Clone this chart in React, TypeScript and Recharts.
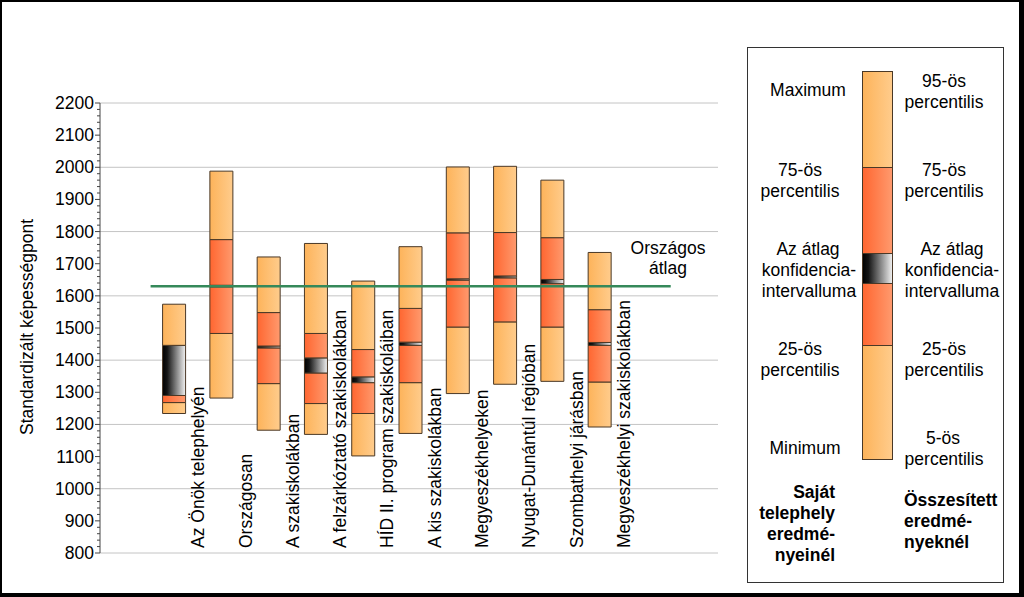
import React from 'react';
import { ComposedChart, Bar, XAxis, YAxis, CartesianGrid, ReferenceLine } from 'recharts';

// Box values (standardised ability points)
const categories = [
  'Az Önök telephelyén',
  'Országosan',
  'A szakiskolákban',
  'A felzárkóztató szakiskolákban',
  'HÍD II. program szakiskoláiban',
  'A kis szakiskolákban',
  'Megyeszékhelyeken',
  'Nyugat-Dunántúl régióban',
  'Szombathelyi járásban',
  'Megyeszékhelyi szakiskolákban',
];
const minValues = [1234, 1282, 1182, 1169, 1102, 1172, 1296, 1325, 1334, 1192];
const p25Values = [1268, 1483, 1327, 1265, 1234, 1330, 1503, 1519, 1503, 1332];
const ciLowValues = [1290, 1628, 1438, 1360, 1330, 1446, 1649, 1656, 1638, 1446];
const ciHighValues = [1446, 1633, 1444, 1407, 1348, 1456, 1653, 1662, 1651, 1455];
const p75Values = [1446, 1775, 1548, 1483, 1433, 1561, 1796, 1797, 1781, 1557];
const maxValues = [1574, 1988, 1721, 1763, 1646, 1753, 2001, 2003, 1960, 1735];
const nationalAverage = 1630;

const majorTicks = [800, 900, 1000, 1100, 1200, 1300, 1400, 1500, 1600, 1700, 1800, 1900, 2000, 2100, 2200];
const gridValues = [800, 1000, 1200, 1400, 1600, 1800, 2000, 2200];
const allTicks: number[] = [];
majorTicks.forEach((t, i) => {
  allTicks.push(t);
  if (i < majorTicks.length - 1) for (let m = t + 20; m < majorTicks[i + 1]; m += 20) allTicks.push(m);
});

// slot 0 and slots 11-12 stay empty, so bars sit at 1.5 ... 10.5
const rows = categories.map((name, i) => ({
  name,
  pos: i + 1.5,
  base: minValues[i],
  lowLight: p25Values[i] - minValues[i],
  lowDark: ciLowValues[i] - p25Values[i],
  ci: ciHighValues[i] - ciLowValues[i],
  highDark: p75Values[i] - ciHighValues[i],
  highLight: maxValues[i] - p75Values[i],
}));

const FONT = '"Liberation Sans", Arial, sans-serif';
const FS = 17.5;
const EDGE = '#4a3826';

const YTick = ({ x, y, payload }: any) => {
  const v = payload.value;
  const major = v % 100 === 0;
  return (
    <g>
      <line x1={x - (major ? 5 : 3)} x2={x} y1={y} y2={y} stroke="#444" />
      {major && (
        <text x={x - 6} y={y} textAnchor="end" dominantBaseline="central" fontSize={FS} fontFamily={FONT} fill="#000">
          {v}
        </text>
      )}
    </g>
  );
};

const XTick = ({ x, y, payload }: any) => {
  const idx = Math.round(payload.value - 1.5);
  const tx = x + 30;
  const ty = y - 5;
  return (
    <text x={tx} y={ty} transform={`rotate(-90 ${tx} ${ty})`} textAnchor="start" fontSize={FS} fontFamily={FONT} fill="#000">
      {categories[idx]}
    </text>
  );
};

const Gradients = ({ prefix }: { prefix: string }) => (
  <defs>
    <linearGradient id={`${prefix}light`} x1="0" y1="0" x2="1" y2="0">
      <stop offset="0" stopColor="#FDB35A" />
      <stop offset="1" stopColor="#FFCC8C" />
    </linearGradient>
    <linearGradient id={`${prefix}dark`} x1="0" y1="0" x2="1" y2="0">
      <stop offset="0" stopColor="#FF6630" />
      <stop offset="1" stopColor="#FF9A6E" />
    </linearGradient>
    <linearGradient id={`${prefix}ci`} x1="0" y1="0" x2="1" y2="0">
      <stop offset="0" stopColor="#000000" />
      <stop offset="0.2" stopColor="#151515" />
      <stop offset="1" stopColor="#F2F2F2" />
    </linearGradient>
  </defs>
);

const leftLegend = [
  { t: 'Maximum', x: 808, y: 90 },
  { t: '75-ös', x: 800, y: 170 },
  { t: 'percentilis', x: 800, y: 191 },
  { t: 'Az átlag', x: 808, y: 249 },
  { t: 'konfidencia-', x: 809, y: 270 },
  { t: 'intervalluma', x: 809, y: 291 },
  { t: '25-ös', x: 800, y: 349 },
  { t: 'percentilis', x: 800, y: 370 },
  { t: 'Minimum', x: 805, y: 448 },
];
const rightLegend = [
  { t: '95-ös', x: 944, y: 81 },
  { t: 'percentilis', x: 944, y: 102 },
  { t: '75-ös', x: 944, y: 170 },
  { t: 'percentilis', x: 944, y: 191 },
  { t: 'Az átlag', x: 952, y: 249 },
  { t: 'konfidencia-', x: 952, y: 270 },
  { t: 'intervalluma', x: 952, y: 291 },
  { t: '25-ös', x: 944, y: 349 },
  { t: 'percentilis', x: 944, y: 370 },
  { t: '5-ös', x: 943, y: 438 },
  { t: 'percentilis', x: 944, y: 459 },
];
const leftBold = ['Saját', 'telephely', 'eredmé-', 'nyeinél'];
const rightBold = ['Összesített', 'eredmé-', 'nyeknél'];

export default function App() {
  return (
    <div style={{ position: 'absolute', left: 0, top: 0, width: 1024, height: 597, background: '#fff', fontFamily: FONT }}>
      <div style={{ position: 'absolute', left: 0, top: 0 }}>
        <ComposedChart width={740} height={597} data={rows} margin={{ top: 103, right: 22, bottom: 14, left: 0 }}>
          <Gradients prefix="c-" />
          <CartesianGrid vertical={false} horizontalValues={gridValues} stroke="#c4c4c4" />
          <XAxis
            dataKey="pos"
            type="number"
            domain={[-0.07, 13]}
            ticks={rows.map(r => r.pos)}
            interval={0}
            height={30}
            axisLine={false}
            tickLine={false}
            tickSize={0}
            tickMargin={0}
            tick={<XTick />}
          />
          <YAxis
            type="number"
            domain={[800, 2200]}
            ticks={allTicks}
            interval={0}
            width={100}
            allowDataOverflow
            axisLine={{ stroke: '#444' }}
            tickLine={false}
            tickSize={0}
            tickMargin={0}
            tick={<YTick />}
          />
          <Bar dataKey="base" stackId="box" fill="transparent" stroke="none" barSize={23} isAnimationActive={false} />
          <Bar dataKey="lowLight" stackId="box" fill="url(#c-light)" stroke={EDGE} barSize={23} isAnimationActive={false} />
          <Bar dataKey="lowDark" stackId="box" fill="url(#c-dark)" stroke={EDGE} barSize={23} isAnimationActive={false} />
          <Bar dataKey="ci" stackId="box" fill="url(#c-ci)" stroke={EDGE} barSize={23} isAnimationActive={false} />
          <Bar dataKey="highDark" stackId="box" fill="url(#c-dark)" stroke={EDGE} barSize={23} isAnimationActive={false} />
          <Bar dataKey="highLight" stackId="box" fill="url(#c-light)" stroke={EDGE} barSize={23} isAnimationActive={false} />
          <ReferenceLine
            segment={[{ x: 1, y: nationalAverage }, { x: 12, y: nationalAverage }]}
            stroke="#35895A"
            strokeWidth={2.6}
          />
        </ComposedChart>
      </div>

      <svg width={1024} height={597} style={{ position: 'absolute', left: 0, top: 0, pointerEvents: 'none' }}>
        <Gradients prefix="l-" />
        <text x={27} y={327} transform="rotate(-90 27 327)" textAnchor="middle" dominantBaseline="central" fontSize={FS} fontFamily={FONT}>
          Standardizált képességpont
        </text>
        <text x={668} y={254} textAnchor="middle" fontSize={FS} fontFamily={FONT}>Országos</text>
        <text x={668} y={274} textAnchor="middle" fontSize={FS} fontFamily={FONT}>átlag</text>

        {/* legend */}
        <rect x={747.5} y={47.5} width={256} height={535} fill="none" stroke="#333" />
        <rect x={862.5} y={71.5} width={30} height={96} fill="url(#l-light)" stroke={EDGE} />
        <rect x={862.5} y={167.5} width={30} height={86} fill="url(#l-dark)" stroke={EDGE} />
        <rect x={862.5} y={253.5} width={30} height={30} fill="url(#l-ci)" stroke={EDGE} />
        <rect x={862.5} y={283.5} width={30} height={62} fill="url(#l-dark)" stroke={EDGE} />
        <rect x={862.5} y={345.5} width={30} height={114} fill="url(#l-light)" stroke={EDGE} />
        {leftLegend.map((l, i) => (
          <text key={'l' + i} x={l.x} y={l.y} textAnchor="middle" dominantBaseline="central" fontSize={FS} fontFamily={FONT}>{l.t}</text>
        ))}
        {rightLegend.map((l, i) => (
          <text key={'r' + i} x={l.x} y={l.y} textAnchor="middle" dominantBaseline="central" fontSize={FS} fontFamily={FONT}>{l.t}</text>
        ))}
        {leftBold.map((t, i) => (
          <text key={'lb' + i} x={835} y={492 + i * 21} textAnchor="end" dominantBaseline="central" fontSize={FS} fontWeight="bold" fontFamily={FONT}>{t}</text>
        ))}
        {rightBold.map((t, i) => (
          <text key={'rb' + i} x={904} y={500 + i * 21} textAnchor="start" dominantBaseline="central" fontSize={FS} fontWeight="bold" fontFamily={FONT}>{t}</text>
        ))}
      </svg>

      {/* outer frame */}
      <div
        style={{
          position: 'absolute', left: 0, top: 0, width: 1024, height: 597, boxSizing: 'border-box',
          borderTop: '2px solid #000', borderLeft: '2px solid #000', borderRight: '5px solid #000', borderBottom: '4px solid #000',
          pointerEvents: 'none',
        }}
      />
    </div>
  );
}
